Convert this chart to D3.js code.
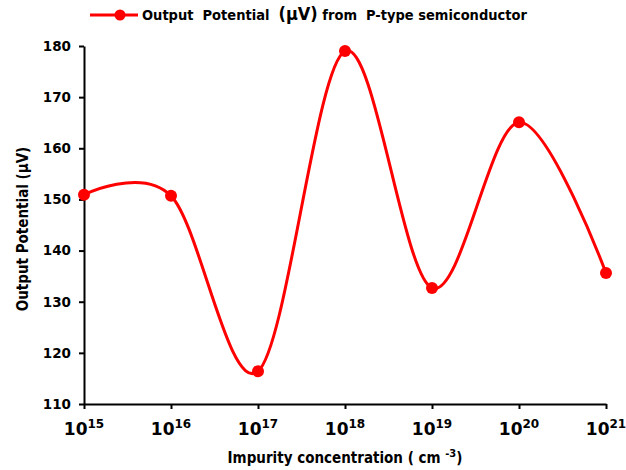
<!DOCTYPE html>
<html lang="en">
<head>
    <meta charset="UTF-8">
    <title>Output Potential vs Impurity concentration</title>
    <script src="https://d3js.org/d3.v7.min.js"></script>
    <style>
        body { margin: 0; background: #fff; }
        text { font-family: "DejaVu Sans Condensed", "DejaVu Sans", sans-serif; font-weight: bold; fill: #000; white-space: pre; }
    </style>
</head>
<body>
    <div id="chart"></div>
    <script>
        // data
        const exponents = [15, 16, 17, 18, 19, 20, 21];
        const potential = [150.9, 150.7, 116.4, 179.0, 132.7, 165.1, 135.6];
        const yTicks = [110, 120, 130, 140, 150, 160, 170, 180];

        const width = 626, height = 470;
        const margin = { left: 84, right: 20, top: 46, bottom: 66 };

        const svg = d3.select("#chart").append("svg")
            .attr("width", width)
            .attr("height", height);

        const x = d3.scaleLinear()
            .domain([15, 21])
            .range([margin.left, width - margin.right]);
        const y = d3.scaleLinear()
            .domain([110, 180])
            .range([height - margin.bottom, margin.top]);

        // y axis
        const yAxis = svg.append("g")
            .attr("transform", `translate(${margin.left},0)`)
            .call(d3.axisLeft(y).tickValues(yTicks).tickSize(5).tickSizeOuter(0).tickPadding(8));
        yAxis.select(".domain").attr("stroke", "#000").attr("stroke-width", 2);
        yAxis.selectAll(".tick line").attr("stroke", "#000").attr("stroke-width", 2);
        yAxis.selectAll(".tick text").style("font-size", "13.5px")
            .style("font-family", "'DejaVu Sans', sans-serif");

        // x axis
        const xAxis = svg.append("g")
            .attr("transform", `translate(0,${y(110)})`)
            .call(d3.axisBottom(x).tickValues(exponents).tickSize(5).tickSizeOuter(0).tickFormat(""));
        xAxis.select(".domain").attr("stroke", "#000").attr("stroke-width", 2);
        xAxis.selectAll(".tick line").attr("stroke", "#000").attr("stroke-width", 2);

        // power-of-ten tick labels
        const xl = svg.append("g").selectAll("text")
            .data(exponents)
            .enter().append("text")
            .attr("x", d => x(d))
            .attr("y", y(110) + 31)
            .attr("text-anchor", "middle")
            .style("font-family", "'DejaVu Sans', sans-serif")
            .style("font-size", "17px");
        xl.append("tspan").text("10");
        xl.append("tspan").attr("dy", -7).style("font-size", "12px").text(d => d);

        // axis titles
        const xt = svg.append("text")
            .attr("x", (margin.left + width - margin.right) / 2)
            .attr("y", 463)
            .attr("text-anchor", "middle")
            .style("font-size", "15px");
        xt.append("tspan").text("Impurity concentration ( cm ");
        xt.append("tspan").attr("dy", -6).style("font-size", "11px").text("-3");
        xt.append("tspan").attr("dy", 6).text(")");

        svg.append("text")
            .attr("transform", `translate(28,${(margin.top + y(110)) / 2 + 4}) rotate(-90)`)
            .attr("text-anchor", "middle")
            .style("font-size", "15px")
            .text("Output Potential (\u03bcV)");

        // smoothed line
        const pts = exponents.map((e, i) => [e, potential[i]]);
        const line = d3.line()
            .x(d => x(d[0]))
            .y(d => y(d[1]))
            .curve(d3.curveCardinal.tension(0));

        svg.append("path")
            .datum(pts)
            .attr("fill", "none")
            .attr("stroke", "#ff0000")
            .attr("stroke-width", 3)
            .attr("d", line);

        svg.append("g").selectAll("circle")
            .data(pts)
            .enter().append("circle")
            .attr("cx", d => x(d[0]))
            .attr("cy", d => y(d[1]))
            .attr("r", 6)
            .attr("fill", "#ff0000");

        // legend
        const lg = svg.append("g");
        lg.append("line").attr("x1", 90).attr("x2", 138).attr("y1", 15).attr("y2", 15)
            .attr("stroke", "#ff0000").attr("stroke-width", 3);
        lg.append("circle").attr("cx", 120).attr("cy", 15).attr("r", 5.5).attr("fill", "#ff0000");
        const lt = lg.append("text").attr("x", 142).attr("y", 20).style("font-size", "14.5px");
        lt.append("tspan").text("Output  Potential  ");
        lt.append("tspan").style("font-size", "18px").text("(\u03bcV)");
        lt.append("tspan").text(" from  P-type semiconductor");
    </script>
</body>
</html>
